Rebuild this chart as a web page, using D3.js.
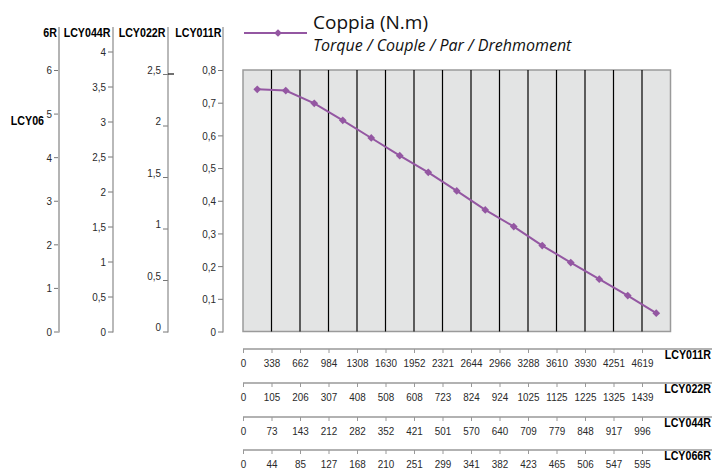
<!DOCTYPE html>
<html>
<head>
<meta charset="utf-8">
<script src="https://cdn.jsdelivr.net/npm/d3@7"></script>
<style>
  body { margin: 0; background: #fff; }
  .cond { font-family: 'Liberation Sans', Arial, sans-serif; }
</style>
</head>
<body>
<div id="chart"></div>
<script>
// speeds (rpm) for each motor variant, one per band edge
const speedLCY011R = [0, 338, 662, 984, 1308, 1630, 1952, 2321, 2644, 2966, 3288, 3610, 3930, 4251, 4619];
const speedLCY022R = [0, 105, 206, 307, 408, 508, 608, 723, 824, 924, 1025, 1125, 1225, 1325, 1439];
const speedLCY044R = [0, 73, 143, 212, 282, 352, 421, 501, 570, 640, 709, 779, 848, 917, 996];
const speedLCY066R = [0, 44, 85, 127, 168, 210, 251, 299, 341, 382, 423, 465, 506, 547, 595];

// torque in LCY011R units (N.m)
const torque = [0.741, 0.737, 0.698, 0.646, 0.592, 0.538, 0.487, 0.430, 0.372, 0.321, 0.263, 0.211, 0.160, 0.110, 0.056];

const ticksLCY066R = [0, 1, 2, 3, 4, 5, 6];
const ticksLCY044R = [0, 0.5, 1, 1.5, 2, 2.5, 3, 3.5, 4];
const ticksLCY022R = [0, 0.5, 1, 1.5, 2, 2.5];
const ticksLCY011R = [0, 0.1, 0.2, 0.3, 0.4, 0.5, 0.6, 0.7, 0.8];

const width = 712;
const height = 471;
const plot = { left: 243, right: 670.5, top: 70, bottom: 331.5 };

const it = d3.formatLocale({ decimal: ',', thousands: '.', grouping: [3], currency: ['', '€'] });
const fmt = it.format('.1~f');

// squeeze text horizontally (no condensed face installed), keeping its anchor point
function condense(k) {
  return (sel) => sel.each(function () {
    const t = d3.select(this);
    const tx = +t.attr('x') || 0;
    t.attr('x', tx / k).attr('transform', `scale(${k},1)`);
  });
}
const tickNarrow = condense(0.86);
const headNarrow = condense(0.89);

const svg = d3.select('#chart').append('svg')
  .attr('width', width)
  .attr('height', height);

const x = d3.scaleLinear().domain([0, speedLCY011R.length]).range([plot.left, plot.right]);
const y = d3.scaleLinear().domain([0, 0.8]).range([plot.bottom, plot.top]);

// plot background
svg.append('rect')
  .attr('x', plot.left).attr('y', plot.top)
  .attr('width', plot.right - plot.left).attr('height', plot.bottom - plot.top)
  .attr('fill', '#e3e4e4')
  .attr('stroke', '#9a9a9a')
  .attr('stroke-width', 1.5);

svg.append('g')
  .selectAll('line')
  .data(d3.range(1, speedLCY011R.length))
  .join('line')
  .attr('x1', (d) => x(d)).attr('x2', (d) => x(d))
  .attr('y1', plot.top).attr('y2', plot.bottom)
  .attr('stroke', '#000')
  .attr('stroke-width', 1.2);

// left axes, all share the same pixel range
const leftAxes = [
  { name: 'LCY066R', pos: 59, domainMax: 6, ticks: ticksLCY066R, color: '#b4b4b4', sw: 2 },
  { name: 'LCY044R', pos: 113, domainMax: 4 * (plot.bottom - plot.top) / 280, ticks: ticksLCY044R, color: '#8a8a8a', sw: 1.2 },
  { name: 'LCY022R', pos: 168, domainMax: 2.5 * (plot.bottom - plot.top) / 257.5, ticks: ticksLCY022R, color: '#8a8a8a', sw: 1.2, above: true },
  { name: 'LCY011R', pos: 223, domainMax: 0.8, ticks: ticksLCY011R, color: '#8a8a8a', sw: 1.2 },
];

leftAxes.forEach((a) => {
  const s = d3.scaleLinear().domain([0, a.domainMax]).range([plot.bottom, plot.top]);
  const g = svg.append('g')
    .attr('class', 'cond')
    .attr('transform', `translate(${a.pos},0)`)
    .call(d3.axisLeft(s).tickValues(a.ticks).tickFormat(fmt).tickSize(5).tickPadding(2).tickSizeOuter(0));
  g.select('.domain').remove();
  g.selectAll('.tick line').attr('stroke', '#777');
  g.selectAll('.tick text')
    .attr('fill', '#2a2a2a')
    .style('font-size', '11.5px')
    .attr('dy', a.above ? '-0.05em' : '0.34em')
    .call(tickNarrow);
  g.append('line')
    .attr('y1', 27).attr('y2', plot.bottom + 1)
    .attr('stroke', a.color)
    .attr('stroke-width', a.sw);
});

// stray marker right of the LCY022R axis
svg.append('line')
  .attr('x1', 168).attr('x2', 174)
  .attr('y1', 74).attr('y2', 74)
  .attr('stroke', '#111').attr('stroke-width', 1.2);

// axis headers
const headers = [
  { text: '6R', x: 57 },
  { text: 'LCY044R', x: 110.5 },
  { text: 'LCY022R', x: 165.5 },
  { text: 'LCY011R', x: 221.5 },
];
svg.append('g')
  .selectAll('text')
  .data(headers)
  .join('text')
  .attr('class', 'cond')
  .attr('x', (d) => d.x)
  .attr('y', 37.5)
  .attr('text-anchor', 'end')
  .style('font-size', '12px')
  .style('font-weight', 'bold')
  .text((d) => d.text)
  .call(headNarrow);

svg.append('text')
  .attr('class', 'cond')
  .attr('x', 44)
  .attr('y', 125)
  .attr('text-anchor', 'end')
  .style('font-size', '12px')
  .style('font-weight', 'bold')
  .text('LCY06')
  .call(headNarrow);

// bottom speed axes
const bottomAxes = [
  { name: 'LCY011R', values: speedLCY011R, y: 349 },
  { name: 'LCY022R', values: speedLCY022R, y: 383 },
  { name: 'LCY044R', values: speedLCY044R, y: 417 },
  { name: 'LCY066R', values: speedLCY066R, y: 450 },
];

bottomAxes.forEach((a) => {
  const g = svg.append('g')
    .attr('class', 'cond')
    .attr('transform', `translate(0,${a.y})`)
    .call(d3.axisBottom(x)
      .tickValues(d3.range(a.values.length))
      .tickFormat((i) => a.values[i])
      .tickSize(4)
      .tickPadding(6)
      .tickSizeOuter(0));
  g.select('.domain').remove();
  g.selectAll('.tick line').attr('stroke', '#999');
  g.selectAll('.tick text')
    .attr('fill', '#2a2a2a')
    .style('font-size', '11.5px')
    .call(tickNarrow);
  g.append('line')
    .attr('x1', plot.left).attr('x2', width)
    .attr('stroke', '#999')
    .attr('stroke-width', 1.5);
  g.append('text')
    .attr('x', 711)
    .attr('y', 10)
    .attr('text-anchor', 'end')
    .attr('fill', '#000')
    .style('font-size', '12px')
    .style('font-weight', 'bold')
    .text(a.name)
    .call(headNarrow);
});

// torque curve, points sit in the middle of each band
const purple = '#9457a2';
const line = d3.line()
  .x((d, i) => x(i + 0.5))
  .y((d) => y(d));

svg.append('path')
  .datum(torque)
  .attr('fill', 'none')
  .attr('stroke', purple)
  .attr('stroke-width', 2)
  .attr('d', line);

const diamond = d3.symbol().type(d3.symbolSquare).size(30);
svg.append('g')
  .selectAll('path')
  .data(torque)
  .join('path')
  .attr('d', diamond)
  .attr('fill', purple)
  .attr('transform', (d, i) => `translate(${x(i + 0.5)},${y(d)}) rotate(45)`);

// legend
const legend = svg.append('g');
legend.append('line')
  .attr('x1', 244).attr('x2', 307)
  .attr('y1', 33).attr('y2', 33)
  .attr('stroke', purple).attr('stroke-width', 2);
legend.append('path')
  .attr('d', diamond)
  .attr('fill', purple)
  .attr('transform', 'translate(278,33) rotate(45)');
legend.append('text')
  .attr('x', 313).attr('y', 29)
  .style('font-family', "'Open Sans', sans-serif")
  .style('font-size', '19px')
  .attr('fill', '#111')
  .text('Coppia (N.m)');
legend.append('text')
  .attr('x', 313).attr('y', 50.5)
  .style('font-family', "'Open Sans', sans-serif")
  .style('font-size', '16px')
  .style('font-style', 'italic')
  .attr('fill', '#111')
  .text('Torque / Couple / Par / Drehmoment');
</script>
</body>
</html>
